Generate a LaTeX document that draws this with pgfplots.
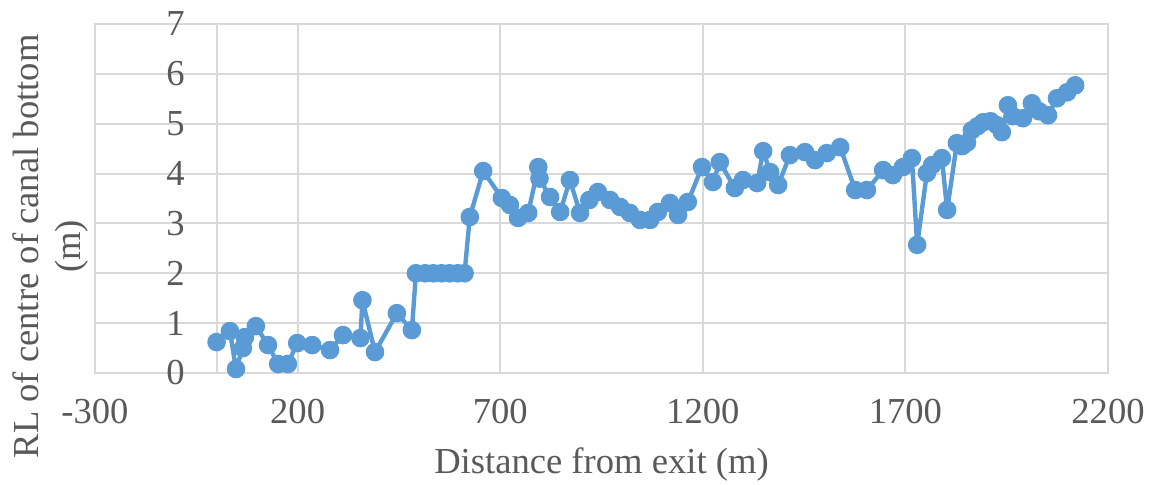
\documentclass[border=0pt]{standalone}
\usepackage{pgfplots}
\pgfplotsset{compat=1.18}
\usepackage{fontspec}
\setmainfont{Liberation Serif}
\definecolor{ln}{HTML}{5B9BD5}
\definecolor{gr}{HTML}{D9D9D9}
\definecolor{tx}{HTML}{595959}
\begin{document}
\begin{tikzpicture}
\begin{axis}[
  scale only axis, width=506.5pt, height=174.5pt,
  xmin=-300, xmax=2200, ymin=0, ymax=7,
  xtick={-300,200,700,1200,1700,2200}, ytick={0,1,...,7},
  extra x ticks={0}, extra x tick labels={},
  extra x tick style={grid=major, major grid style={gr, line width=1pt}},
  grid=major, major grid style={gr, line width=1pt},
  axis line style={gr, line width=1pt},
  major tick length=0pt,
  tick label style={font=\fontsize{18.3}{22}\selectfont, text=tx},
  /pgf/number format/assume math mode=true,
  /pgf/number format/1000 sep={},
  yticklabel style={inner sep=0pt, xshift=45pt},
  xticklabel style={anchor=center, yshift=-19.5pt},
  xlabel={Distance from exit (m)},
  ylabel={RL of centre of canal bottom\\(m)},
  label style={font=\fontsize{18.3}{21}\selectfont, text=tx},
  xlabel style={at={(axis description cs:0.5,-0.2636)}, anchor=center},
  ylabel style={at={(axis description cs:-0.0444,0.3625)}, anchor=center, align=center},
]
\addplot[color=ln, line width=2.2pt, line join=round, line cap=round, mark=*, mark size=4.4pt, mark options={fill=ln, draw=ln, line width=0.5pt}] coordinates {
(0,0.62) (33,0.84) (48,0.08) (65,0.50) (70,0.72) (97,0.94) (127,0.56) (152,0.18) (176,0.18)
(199,0.60) (236,0.56) (280,0.46) (312,0.76) (355,0.70) (360,1.46) (391,0.42) (445,1.20) (482,0.86)
(492,2.00) (515,2.00) (535,2.00) (555,2.00) (575,2.00) (595,2.00) (612,2.00)
(625,3.13) (658,4.05) (704,3.51) (724,3.37) (744,3.11) (769,3.21) (794,4.13) (797,3.90)
(823,3.53) (848,3.23) (872,3.87) (897,3.21) (920,3.47) (941,3.63) (971,3.47) (996,3.33)
(1020,3.21) (1045,3.07) (1070,3.07) (1089,3.23) (1119,3.41) (1139,3.17) (1163,3.43)
(1198,4.13) (1225,3.83) (1242,4.23) (1279,3.71) (1299,3.87) (1334,3.81) (1349,4.45) (1366,4.03)
(1386,3.77) (1415,4.37) (1452,4.43) (1477,4.27) (1506,4.41) (1539,4.53) (1576,3.67) (1605,3.67)
(1645,4.07) (1669,3.97) (1694,4.13) (1716,4.31) (1729,2.57) (1753,4.01) (1766,4.17) (1790,4.31)
(1803,3.27) (1827,4.61) (1840,4.55) (1852,4.62) (1864,4.87) (1878,4.95) (1892,5.03) (1910,5.05) (1926,4.97) (1938,4.83) (1953,5.37)
(1965,5.15) (1990,5.11) (2012,5.41) (2030,5.25) (2052,5.17) (2074,5.51) (2099,5.63) (2119,5.77)
};
\coordinate (ll) at (rel axis cs:0,0);
\coordinate (ur) at (rel axis cs:1,1);
\end{axis}
\pgfresetboundingbox
\path ([xshift=-47.5pt,yshift=-56pt]ll) rectangle ([xshift=22.5pt,yshift=12pt]ur);
\end{tikzpicture}
\end{document}
